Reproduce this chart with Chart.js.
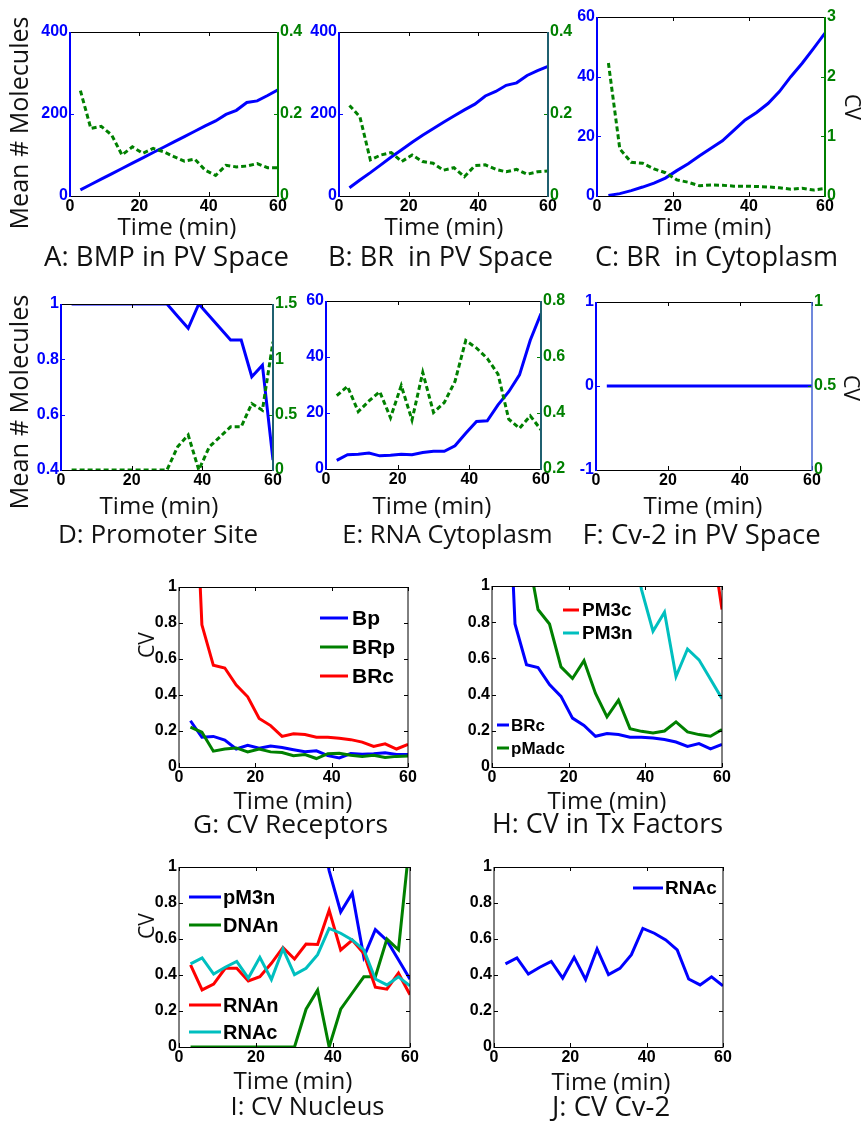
<!DOCTYPE html>
<html>
<head>
<meta charset="utf-8">
<script src="https://cdn.jsdelivr.net/npm/chart.js@4"></script>
<style>
  html, body { margin: 0; padding: 0; background: #fff; }
  body { position: relative; width: 862px; height: 1125px; overflow: hidden; }
  canvas { position: absolute; }
  .t { position: absolute; font-family: "Open Sans", sans-serif; font-size: 24px; line-height: 1; color: #111;
       white-space: pre; }
</style>
</head>
<body>
<script>
// Sampling times (min)
const timeMin = [3, 6, 9, 12, 15, 18, 21, 24, 27, 30, 33, 36, 39, 42, 45, 48, 51, 54, 57, 60];

// Mean molecule counts and coefficients of variation per compartment
const bmpPvMean   = [15, 28, 41, 54, 67, 80, 93, 106, 119, 132, 145, 158, 171, 183, 199, 209, 228, 232, 245, 259];
const bmpPvCV     = [0.257, 0.165, 0.17, 0.149, 0.10, 0.12, 0.104, 0.116, 0.108, 0.096, 0.085, 0.09, 0.063, 0.05, 0.075, 0.071, 0.073, 0.079, 0.069, 0.069];
const brPvMean    = [20, 39, 57, 76, 95, 113, 131, 148, 164, 180, 195, 210, 224, 244, 255, 270, 276, 294, 306, 316];
const brPvCV      = [0.221, 0.193, 0.088, 0.10, 0.106, 0.084, 0.10, 0.084, 0.08, 0.063, 0.069, 0.047, 0.074, 0.076, 0.065, 0.059, 0.065, 0.053, 0.059, 0.061];
const brCytoMean  = [0.2, 0.8, 1.8, 3, 4.3, 6, 8.5, 10.8, 13.5, 16, 18.5, 22, 25.5, 28, 31, 35, 40, 44.5, 49.5, 54.6];
const brCytoCV    = [2.23, 0.79, 0.565, 0.55, 0.455, 0.39, 0.27, 0.23, 0.17, 0.185, 0.18, 0.165, 0.165, 0.16, 0.152, 0.138, 0.114, 0.129, 0.10, 0.125];
const promoterMean = [1, 1, 1, 1, 1, 1, 1, 1, 1, 1, 0.956, 0.912, 1, 0.957, 0.913, 0.87, 0.87, 0.737, 0.779, 0.436];
const promoterCV   = [0, 0, 0, 0, 0, 0, 0, 0, 0, 0, 0.21, 0.316, 0, 0.21, 0.30, 0.39, 0.39, 0.60, 0.54, 1.16];
const rnaCytoMean = [3.1, 5.1, 5.3, 5.7, 4.7, 4.9, 5.3, 5.1, 5.9, 6.3, 6.3, 8.3, 12.8, 17, 17.2, 22.9, 27.6, 33.6, 46, 55.5];
const rnaCytoCV   = [0.462, 0.495, 0.405, 0.443, 0.476, 0.383, 0.498, 0.375, 0.545, 0.402, 0.437, 0.513, 0.659, 0.632, 0.595, 0.539, 0.378, 0.345, 0.39, 0.34];
const cv2PvMean   = [0, 0, 0, 0, 0, 0, 0, 0, 0, 0, 0, 0, 0, 0, 0, 0, 0, 0, 0, 0];
const pMadcCV     = [3.0, 2.0, 1.22, 0.87, 0.79, 0.553, 0.489, 0.587, 0.406, 0.277, 0.369, 0.212, 0.197, 0.188, 0.199, 0.249, 0.194, 0.179, 0.17, 0.207];
const pm3cCV      = [9.5, 8.1, 7.2, 6.0, 5.3, 4.6, 4.1, 3.6, 3.2, 2.9, 2.6, 2.4, 2.2, 2.0, 1.8, 1.7, 1.6, 1.45, 1.3, 0.87];
const pm3nCV      = [6.0, 5.0, 4.3, 3.7, 3.1, 2.7, 2.3, 2.0, 1.8, 1.6, 1.45, 1.3, 0.98, 0.75, 0.855, 0.5, 0.652, 0.592, 0.485, 0.377];
const rnaNucCV    = [0.456, 0.317, 0.349, 0.437, 0.437, 0.367, 0.391, 0.465, 0.553, 0.489, 0.572, 0.57, 0.76, 0.539, 0.594, 0.52, 0.332, 0.321, 0.41, 0.29];

// Axis tick settings
const timeTicks = { min: 0, max: 60, step: 20 };
const cvTicks   = { min: 0, max: 1, step: 0.2 };

const BLUE = '#0000ff', GREEN = '#008000', RED = '#ff0000', CYAN = '#00bfbf', TEAL = '#1f6070', BLACK = '#000000';

Chart.defaults.font.family = '"Liberation Sans", Arial, sans-serif';
Chart.defaults.font.size = 16;
Chart.defaults.font.weight = 'bold';
Chart.defaults.color = BLACK;

// Short tick text: 1 instead of 1.0, 0.2 instead of 0.20
const tickText = v => String(parseFloat(Number(v).toFixed(3)));

// Box frame with inward tick marks, drawn on top of the data
const axesFrame = {
  id: 'axesFrame',
  afterDatasetsDraw(chart, _args, o) {
    const { ctx, chartArea: a, scales } = chart;
    const tl = 4;
    const seg = (x1, y1, x2, y2, col, w) => {
      ctx.strokeStyle = col; ctx.lineWidth = w;
      ctx.beginPath(); ctx.moveTo(x1, y1); ctx.lineTo(x2, y2); ctx.stroke();
    };
    ctx.save();
    const L = a.left, R = a.right, T = a.top, B = a.bottom;
    scales.x.ticks.forEach(t => {
      const px = Math.round(scales.x.getPixelForValue(t.value)) + 0.5;
      seg(px, B, px, B - tl, BLACK, 1);
      seg(px, T, px, T + tl, BLACK, 1);
    });
    const yTicks = (sc, x, dir, col) => sc.ticks.forEach(t => {
      const py = Math.round(sc.getPixelForValue(t.value)) + 0.5;
      seg(x, py, x + dir * tl, py, col, 1);
    });
    yTicks(scales.y, L, 1, o.leftTick);
    if (scales.y1) yTicks(scales.y1, R, -1, o.rightTick);
    else yTicks(scales.y, R, -1, o.leftTick);
    seg(L, T + 0.5, R, T + 0.5, BLACK, 1);
    seg(L, B + 0.5, R, B + 0.5, BLACK, 1);
    seg(L, T, L, B + 1, o.leftColor, o.leftWidth);
    seg(R, T, R, B + 1, o.rightColor, o.rightWidth);
    ctx.restore();
  }
};

// Legend boxes placed inside the plot area, built from the dataset labels and colours
const innerLegend = {
  id: 'innerLegend',
  afterDatasetsDraw(chart, _args, o) {
    if (!o.groups) return;
    const { ctx, chartArea: a } = chart;
    o.groups.forEach(g => {
      ctx.save();
      ctx.font = `bold ${g.size}px "Liberation Sans", Arial, sans-serif`;
      ctx.textBaseline = 'middle';
      ctx.textAlign = 'left';
      g.items.forEach((di, k) => {
        const ds = chart.data.datasets[di];
        const y = a.top + g.y + k * g.dy;
        ctx.strokeStyle = ds.borderColor; ctx.lineWidth = 3;
        ctx.beginPath(); ctx.moveTo(a.left + g.x0, y); ctx.lineTo(a.left + g.x1, y); ctx.stroke();
        ctx.fillStyle = BLACK;
        ctx.fillText(ds.label, a.left + g.tx, y + 1);
      });
      ctx.restore();
    });
  }
};

Chart.register(axesFrame, innerLegend);

function series(values, opts) {
  return Object.assign({
    data: timeMin.map((t, i) => ({ x: t, y: values[i] })),
    borderWidth: 3, pointRadius: 0, tension: 0, fill: false
  }, opts);
}

function yScale(pos, tk, color, width) {
  return {
    type: 'linear', position: pos, min: tk.min, max: tk.max,
    ticks: { stepSize: tk.step, color: color, padding: 2, callback: tickText },
    grid: { display: false, drawTicks: false }, border: { display: false },
    afterFit(s) { s.width = width; }
  };
}

function panel(plot, datasets, left, right, frame, legend, clip) {
  const L = 50, R = right ? 45 : 15, T = 12, B = 24;
  const c = document.createElement('canvas');
  c.width = plot.r - plot.l + L + R;
  c.height = plot.b - plot.t + T + B;
  c.style.left = (plot.l - L) + 'px';
  c.style.top = (plot.t - T) + 'px';
  document.body.appendChild(c);
  const scales = {
    x: {
      type: 'linear', position: 'bottom', min: timeTicks.min, max: timeTicks.max,
      ticks: { stepSize: timeTicks.step, color: BLACK, padding: 1, maxRotation: 0, autoSkip: false, callback: tickText },
      grid: { display: false, drawTicks: false }, border: { display: false },
      afterFit(s) { s.height = B; }
    },
    y: yScale('left', left.ticks, left.color, L)
  };
  if (right) scales.y1 = yScale('right', right.ticks, right.color, R);
  datasets.forEach(d => { if (clip !== undefined) d.clip = clip; });
  new Chart(c, {
    type: 'line',
    data: { datasets },
    options: {
      responsive: false, animation: false, events: [],
      layout: { padding: { top: T, right: right ? 0 : R, left: 0, bottom: 0 } },
      scales,
      plugins: {
        legend: { display: false }, tooltip: { enabled: false },
        axesFrame: frame,
        innerLegend: legend || {}
      }
    }
  });
}

const dualFrame = (rightColor) => ({ leftColor: BLUE, leftWidth: 2, leftTick: BLUE, rightColor, rightWidth: 2, rightTick: GREEN });
const boxFrame = { leftColor: BLACK, leftWidth: 1, leftTick: BLACK, rightColor: BLACK, rightWidth: 1 };
const dotted = { borderDash: [5, 3] };

// A: BMP in PV space
panel({ l: 70, t: 32, r: 278, b: 196 }, [
  series(bmpPvMean, { label: 'Mean', borderColor: BLUE, yAxisID: 'y', order: 1 }),
  series(bmpPvCV, Object.assign({ label: 'CV', borderColor: GREEN, yAxisID: 'y1', order: 0 }, dotted))
], { ticks: { min: 0, max: 400, step: 200 }, color: BLUE },
   { ticks: { min: 0, max: 0.4, step: 0.2 }, color: GREEN }, dualFrame(GREEN));

// B: BR in PV space
panel({ l: 339, t: 32, r: 548, b: 196 }, [
  series(brPvMean, { label: 'Mean', borderColor: BLUE, yAxisID: 'y', order: 1 }),
  series(brPvCV, Object.assign({ label: 'CV', borderColor: GREEN, yAxisID: 'y1', order: 0 }, dotted))
], { ticks: { min: 0, max: 400, step: 200 }, color: BLUE },
   { ticks: { min: 0, max: 0.4, step: 0.2 }, color: GREEN }, dualFrame(TEAL));

// C: BR in cytoplasm
panel({ l: 597, t: 17, r: 825, b: 196 }, [
  series(brCytoMean, { label: 'Mean', borderColor: BLUE, yAxisID: 'y', order: 1 }),
  series(brCytoCV, Object.assign({ label: 'CV', borderColor: GREEN, yAxisID: 'y1', order: 0 }, dotted))
], { ticks: { min: 0, max: 60, step: 20 }, color: BLUE },
   { ticks: { min: 0, max: 3, step: 1 }, color: GREEN }, dualFrame(GREEN));

// D: promoter site
panel({ l: 61, t: 304, r: 273, b: 470 }, [
  series(promoterMean, { label: 'Mean', borderColor: BLUE, yAxisID: 'y', order: 1 }),
  series(promoterCV, Object.assign({ label: 'CV', borderColor: GREEN, yAxisID: 'y1', order: 0 }, dotted))
], { ticks: { min: 0.4, max: 1, step: 0.2 }, color: BLUE },
   { ticks: { min: 0, max: 1.5, step: 0.5 }, color: GREEN }, dualFrame(TEAL));

// E: RNA in cytoplasm
panel({ l: 326, t: 301, r: 541, b: 469 }, [
  series(rnaCytoMean, { label: 'Mean', borderColor: BLUE, yAxisID: 'y', order: 1 }),
  series(rnaCytoCV, Object.assign({ label: 'CV', borderColor: GREEN, yAxisID: 'y1', order: 0 }, dotted))
], { ticks: { min: 0, max: 60, step: 20 }, color: BLUE },
   { ticks: { min: 0.2, max: 0.8, step: 0.2 }, color: GREEN }, dualFrame(TEAL));

// F: Cv-2 in PV space (mean stays at zero, CV undefined)
panel({ l: 596, t: 302, r: 812, b: 470 }, [
  series(cv2PvMean, { label: 'Mean', borderColor: BLUE, yAxisID: 'y', order: 1 })
], { ticks: { min: -1, max: 1, step: 1 }, color: BLUE },
   { ticks: { min: 0, max: 1, step: 0.5 }, color: GREEN },
   { leftColor: BLUE, leftWidth: 2, leftTick: BLUE, rightColor: '#4060d0', rightWidth: 1.5, rightTick: GREEN });

// G: CV of receptors
panel({ l: 179, t: 587, r: 408, b: 767 }, [
  series(bmpPvCV, { label: 'Bp', borderColor: BLUE, order: 3 }),
  series(brPvCV, { label: 'BRp', borderColor: GREEN, order: 2 }),
  series(brCytoCV, { label: 'BRc', borderColor: RED, order: 1 })
], { ticks: cvTicks, color: BLACK }, null, boxFrame,
   { groups: [{ items: [0, 1, 2], y: 31, dy: 29, x0: 141, x1: 169, tx: 173, size: 21 }] }, 0);

// H: CV in transcription factors
panel({ l: 492, t: 586, r: 722, b: 767 }, [
  series(brCytoCV, { label: 'BRc', borderColor: BLUE, order: 4 }),
  series(pMadcCV, { label: 'pMadc', borderColor: GREEN, order: 3 }),
  series(pm3cCV, { label: 'PM3c', borderColor: RED, order: 2 }),
  series(pm3nCV, { label: 'PM3n', borderColor: CYAN, order: 1 })
], { ticks: cvTicks, color: BLACK }, null, boxFrame,
   { groups: [
     { items: [2, 3], y: 24, dy: 23, x0: 71, x1: 87, tx: 90, size: 19 },
     { items: [0, 1], y: 139, dy: 23, x0: 5, x1: 17, tx: 19, size: 17 }
   ] }, 0);

// I: CV in nucleus
panel({ l: 179, t: 867, r: 410, b: 1047 }, [
  series(pm3nCV, { label: 'pM3n', borderColor: BLUE, order: 4 }),
  series(promoterCV, { label: 'DNAn', borderColor: GREEN, order: 3 }),
  series(rnaNucCV, { label: 'RNAn', borderColor: RED, order: 2 }),
  series(rnaCytoCV, { label: 'RNAc', borderColor: CYAN, order: 1 })
], { ticks: cvTicks, color: BLACK }, null, boxFrame,
   { groups: [
     { items: [0, 1], y: 30, dy: 28, x0: 10, x1: 42, tx: 44, size: 20 },
     { items: [2, 3], y: 138, dy: 27, x0: 10, x1: 42, tx: 44, size: 20 }
   ] }, 0);

// J: CV of Cv-2
panel({ l: 494, t: 867, r: 723, b: 1047 }, [
  series(rnaCytoCV, { label: 'RNAc', borderColor: BLUE, order: 1 })
], { ticks: cvTicks, color: BLACK }, null, boxFrame,
   { groups: [{ items: [0], y: 21, dy: 0, x0: 139, x1: 169, tx: 171, size: 19 }] }, 0);

// Axis titles and panel captions; each text is sized toward a given length (px),
// within a font-size range so the captions keep a common look
function label(text, cx, capTop, span, rot, minFs, maxFs) {
  const d = document.createElement('div');
  d.className = 't';
  d.textContent = text;
  document.body.appendChild(d);
  const w = d.getBoundingClientRect().width;
  let fs = 24 * span / w;
  if (minFs !== undefined) fs = Math.min(maxFs, Math.max(minFs, fs));
  d.style.fontSize = fs.toFixed(2) + 'px';
  if (rot === undefined) {
    d.style.left = cx + 'px';
    d.style.top = (capTop - 0.174 * fs) + 'px';
    d.style.transform = 'translateX(-50%)';
  } else {
    // capTop is the centre of the rotated text here
    d.style.left = cx + 'px';
    d.style.top = capTop + 'px';
    d.style.transform = `translate(-50%, -50%) rotate(${rot}deg)`;
  }
}
[[177, 218], [444, 218], [712, 218], [159, 497], [432, 497], [703, 497],
 [293, 792], [607, 792], [293, 1072], [611, 1073]].forEach(p => label('Time (min)', p[0], p[1], 119));
[['A: BMP in PV Space', 166.5, 247, 247], ['B: BR  in PV Space', 440.5, 247, 225], ['C: BR  in Cytoplasm', 716.5, 247, 243],
 ['D: Promoter Site', 158, 525, 200], ['E: RNA Cytoplasm', 447.5, 525, 195], ['F: Cv-2 in PV Space', 701.5, 525, 243],
 ['G: CV Receptors', 290.5, 815, 195], ['H: CV in Tx Factors', 607.5, 815, 231],
 ['I: CV Nucleus', 307.5, 1097, 145], ['J: CV Cv-2', 611, 1097, 122]]
  .forEach(p => label(p[0], p[1], p[2], p[3], undefined, 25.5, 27.5));
label('Mean # Molecules', 19, 123, 213, -90);
label('Mean # Molecules', 19, 402, 215, -90);
label('CV', 853, 107, 26, 90);
label('CV', 852, 388, 26, 90);
label('CV', 146, 645, 26, -90);
label('CV', 146, 926, 26, -90);
</script>
</body>
</html>
